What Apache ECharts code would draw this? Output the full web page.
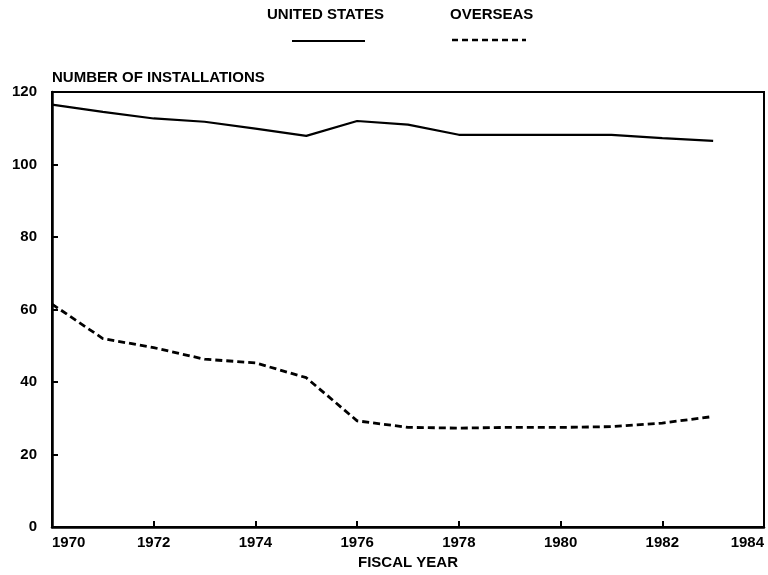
<!DOCTYPE html>
<html>
<head>
<meta charset="utf-8">
<script src="https://cdn.jsdelivr.net/npm/echarts@6/dist/echarts.min.js"></script>
<style>
  html, body { margin: 0; padding: 0; background: #fff; }
  #chart { width: 768px; height: 575px; }
</style>
</head>
<body>
<div id="chart"></div>
<script>
// ---- data ----
const years = [1970, 1971, 1972, 1973, 1974, 1975, 1976, 1977, 1978, 1979, 1980, 1981, 1982, 1983];
const unitedStates = [116.5, 114.5, 112.7, 111.8, 109.9, 107.9, 112.0, 111.0, 108.2, 108.2, 108.2, 108.2, 107.3, 106.5];
const overseas = [61.5, 52.0, 49.5, 46.3, 45.3, 41.2, 29.3, 27.5, 27.3, 27.5, 27.5, 27.7, 28.7, 30.5];
const seriesNames = ['UNITED STATES', 'OVERSEAS'];
const yAxisTitle = 'NUMBER OF INSTALLATIONS';
const xAxisTitle = 'FISCAL YEAR';

const FONT = '"Liberation Sans", Arial, sans-serif';
const txt = { color: '#000', fontFamily: FONT, fontWeight: 'bold', fontSize: 15 };

const chart = echarts.init(document.getElementById('chart'), null, { renderer: 'canvas' });

chart.setOption({
  backgroundColor: '#fff',
  animation: false,
  grid: {
    left: 52, right: 4, top: 92, bottom: 43,
    show: true, borderColor: '#000', borderWidth: 2, backgroundColor: 'transparent'
  },
  xAxis: {
    type: 'value',
    min: 1970, max: 1984, interval: 2,
    name: xAxisTitle,
    nameLocation: 'middle',
    nameGap: 24,
    nameTextStyle: Object.assign({}, txt),
    axisLine: { show: true, lineStyle: { color: '#000', width: 2.5 } },
    axisTick: { show: true, inside: true, length: 6, lineStyle: { color: '#000', width: 2 } },
    axisLabel: Object.assign({
      margin: 8, alignMinLabel: 'left', alignMaxLabel: 'right',
      formatter: function (v) { return String(v); }
    }, txt),
    splitLine: { show: false }
  },
  yAxis: {
    type: 'value',
    min: 0, max: 120, interval: 20,
    name: yAxisTitle,
    nameLocation: 'end',
    nameGap: 7,
    nameTextStyle: Object.assign({ align: 'left', verticalAlign: 'bottom' }, txt),
    axisLine: { show: true, lineStyle: { color: '#000', width: 2.5 } },
    axisTick: { show: true, inside: true, length: 6, lineStyle: { color: '#000', width: 2 } },
    axisLabel: Object.assign({ margin: 15 }, txt),
    splitLine: { show: false }
  },
  series: [
    {
      name: seriesNames[0],
      type: 'line',
      data: years.map((y, i) => [y, unitedStates[i]]),
      showSymbol: false,
      lineStyle: { color: '#000', width: 2.2, type: 'solid' },
      z: 3
    },
    {
      name: seriesNames[1],
      type: 'line',
      data: years.map((y, i) => [y, overseas[i]]),
      showSymbol: false,
      lineStyle: { color: '#000', width: 2.8, type: [7, 4] },
      z: 3
    }
  ],
  graphic: [
    { type: 'text', left: 267, top: 7, style: { text: seriesNames[0], fill: '#000', font: 'bold 15px ' + FONT } },
    { type: 'line', shape: { x1: 292, y1: 41, x2: 365, y2: 41 }, style: { stroke: '#000', lineWidth: 2 } },
    { type: 'text', left: 450, top: 7, style: { text: seriesNames[1], fill: '#000', font: 'bold 15px ' + FONT } },
    { type: 'line', shape: { x1: 452, y1: 40, x2: 526, y2: 40 }, style: { stroke: '#000', lineWidth: 2.5, lineDash: [6, 4] } }
  ]
});
</script>
</body>
</html>
